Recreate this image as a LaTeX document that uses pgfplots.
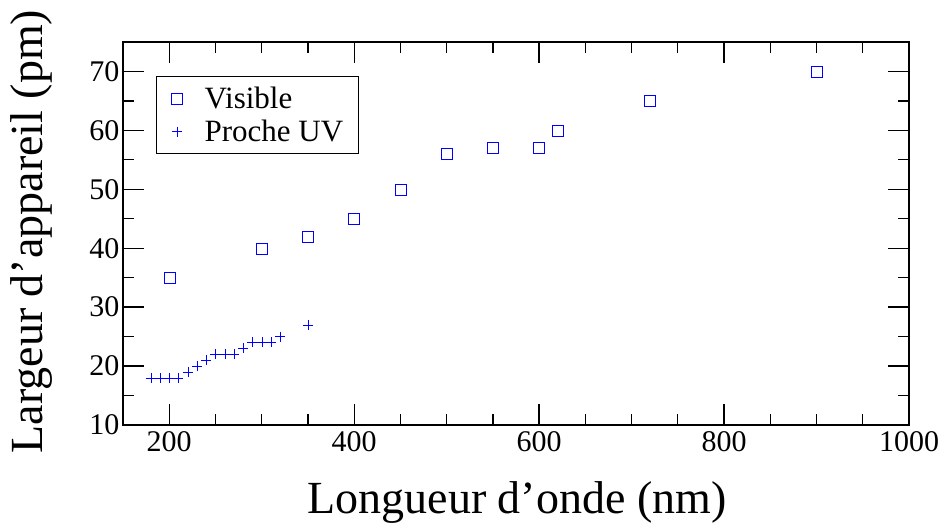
\documentclass[border=0pt]{standalone}
\usepackage{fontspec}
\setmainfont{Liberation Serif}
\usepackage{pgfplots}
\pgfplotsset{compat=1.18}
\definecolor{mblue}{RGB}{0,0,255}
\begin{document}
\begin{tikzpicture}
\begin{axis}[
  name=main,
  scale only axis, width=786pt, height=383pt,
  xmin=150, xmax=1000, ymin=10, ymax=75,
  xtick={200,400,...,1000}, minor x tick num=3,
  ytick={10,20,...,70}, minor y tick num=1,
  tick align=inside, major tick length=21pt, minor tick length=11pt,
  axis line style={line width=2pt},
  every tick/.style={black, line width=1.3pt},
  /pgf/number format/assume math mode=true,
  /pgf/number format/1000 sep={},
  tick label style={font=\fontsize{30}{36}\selectfont},
  xticklabel style={yshift=-3pt},
  xlabel={Longueur d’onde (nm)},
  ylabel={Largeur d’appareil (pm)},
  xlabel style={font=\fontsize{46}{55}\selectfont, inner sep=0pt, anchor=base,
    at={(axis description cs:0.5013,-0.2298)}},
  ylabel style={font=\fontsize{46}{55}\selectfont, inner sep=0pt, anchor=base, rotate=0,
    at={(axis description cs:-0.1018,0.505)}},
  legend style={at={(axis description cs:0.042,0.9112)}, anchor=north west,
    font=\fontsize{31}{37}\selectfont,
    line width=1.3pt, inner xsep=15pt, inner ysep=6pt,
    nodes={inner sep=0pt, text height=26pt, text depth=6pt},
    row sep=1pt, column sep=22pt},
  legend cell align=left,
  every mark/.append style={draw=mblue, line width=1.3pt},
  legend image code/.code={\color{mblue}\path[#1, draw=mblue, mark options={draw=mblue, line width=1.3pt}] plot coordinates {(0pt,0pt)};},
]
\addplot[color=mblue, only marks, mark=square, mark size=5.5pt] coordinates {
(200,35) (300,40) (350,42) (400,45) (450,50) (500,56) (550,57) (600,57) (620,60) (720,65) (900,70)
};
\addlegendentry{Visible}
\addplot[color=mblue, only marks, mark=+, mark size=5pt] coordinates {
(180,18) (190,18) (200,18) (210,18) (220,19) (230,20) (240,21) (250,22) (260,22) (270,22)
(280,23) (290,24) (300,24) (310,24) (320,25) (350,27)
};
\addlegendentry{Proche UV}
\end{axis}
\pgfresetboundingbox
\path[use as bounding box] ([shift={(-123pt,-99pt)}]main.south west) rectangle ([shift={(35pt,42pt)}]main.north east);
\end{tikzpicture}
\end{document}
